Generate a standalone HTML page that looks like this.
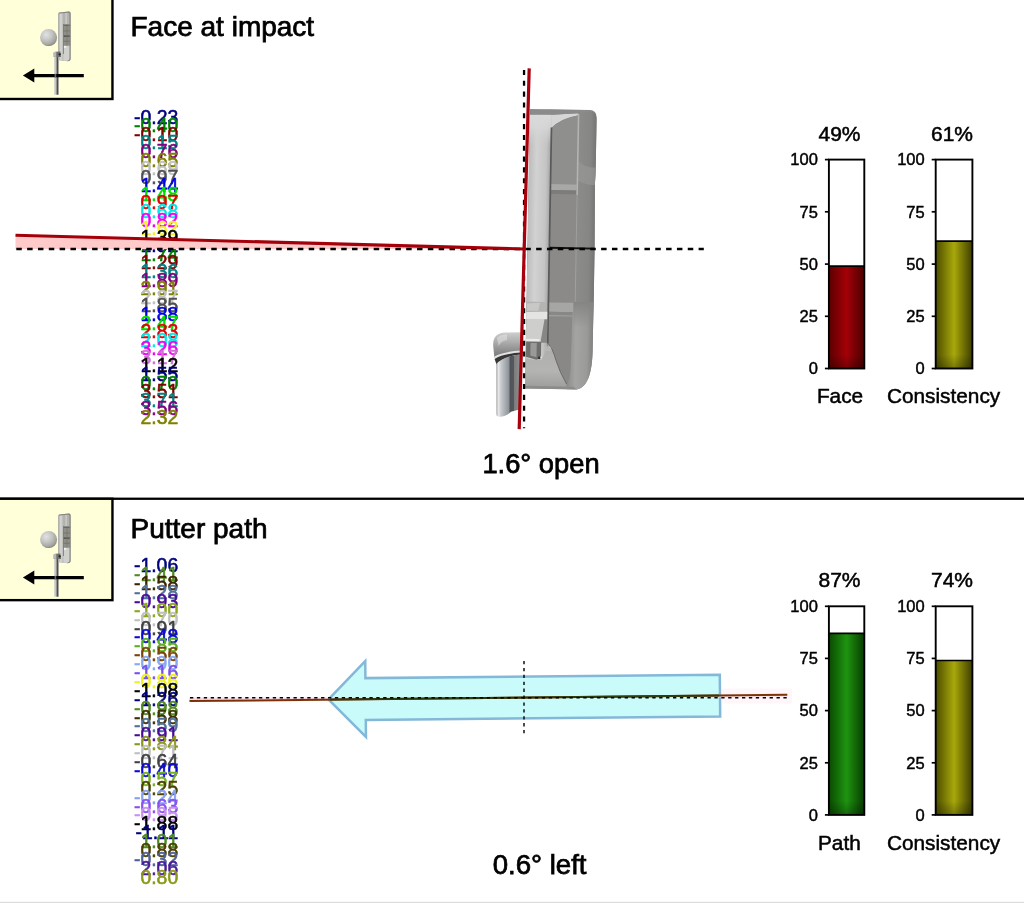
<!DOCTYPE html>
<html lang="en"><head><meta charset="utf-8"><title>Putting analysis</title>
<style>html,body{margin:0;padding:0;background:#fff}svg{display:block}</style>
</head><body>
<svg width="1024" height="904" viewBox="0 0 1024 904" font-family='"Liberation Sans", Arial, sans-serif' fill="#000">
<defs>
 <linearGradient id="gRed" x1="0" x2="1" y1="0" y2="0"><stop offset="0" stop-color="#5c0000"/><stop offset="0.5" stop-color="#a40008"/><stop offset="1" stop-color="#4a0000"/></linearGradient>
 <linearGradient id="gOlive" x1="0" x2="1" y1="0" y2="0"><stop offset="0" stop-color="#4c4c00"/><stop offset="0.5" stop-color="#a8a80c"/><stop offset="1" stop-color="#3e3e00"/></linearGradient>
 <linearGradient id="gGreen" x1="0" x2="1" y1="0" y2="0"><stop offset="0" stop-color="#0a4a00"/><stop offset="0.5" stop-color="#1e9410"/><stop offset="1" stop-color="#083c00"/></linearGradient>
 <radialGradient id="gBall" cx="0.36" cy="0.32" r="0.75"><stop offset="0" stop-color="#e2e2e4"/><stop offset="0.45" stop-color="#c4c4c2"/><stop offset="0.8" stop-color="#a4a4a0"/><stop offset="1" stop-color="#86867e"/></radialGradient>
  <linearGradient id="gHeadS" x1="0" x2="1" y1="0" y2="0"><stop offset="0" stop-color="#a6a6a2"/><stop offset="0.5" stop-color="#d8d8d4"/><stop offset="1" stop-color="#b6b6b2"/></linearGradient>
 <linearGradient id="gFace" x1="0" x2="1" y1="0" y2="0"><stop offset="0" stop-color="#bcbcbc"/><stop offset="0.35" stop-color="#d2d2d2"/><stop offset="0.8" stop-color="#c4c4c4"/><stop offset="1" stop-color="#a6a6a6"/></linearGradient>
 <linearGradient id="gFlange" x1="0" x2="1" y1="0" y2="0"><stop offset="0" stop-color="#8c8c8b"/><stop offset="0.6" stop-color="#868685"/><stop offset="1" stop-color="#6e6e6d"/></linearGradient>
 <linearGradient id="gFlangeB" x1="0" x2="1" y1="0" y2="0"><stop offset="0" stop-color="#8c8c8b"/><stop offset="0.3" stop-color="#a4a4a3"/><stop offset="0.7" stop-color="#9a9a99"/><stop offset="1" stop-color="#767675"/></linearGradient>
 <linearGradient id="gBarShade" x1="0" x2="0" y1="0" y2="1"><stop offset="0" stop-color="#000" stop-opacity="0"/><stop offset="1" stop-color="#000" stop-opacity="0.28"/></linearGradient>
 <linearGradient id="gFaceTop" x1="0" x2="0" y1="0" y2="1"><stop offset="0" stop-color="#dadada" stop-opacity="1"/><stop offset="0.4" stop-color="#d8d8d8" stop-opacity="0.85"/><stop offset="1" stop-color="#d0d0d0" stop-opacity="0"/></linearGradient>
 <linearGradient id="gFade" x1="0" x2="0" y1="0" y2="1"><stop offset="0" stop-color="#858584" stop-opacity="1"/><stop offset="1" stop-color="#858584" stop-opacity="0"/></linearGradient>
 <linearGradient id="gSole" x1="0" x2="0" y1="0" y2="1"><stop offset="0" stop-color="#adadab"/><stop offset="0.6" stop-color="#b4b4b2"/><stop offset="1" stop-color="#9c9c9a"/></linearGradient>
 <linearGradient id="gElbow" x1="0" x2="0" y1="0" y2="1"><stop offset="0" stop-color="#cecece"/><stop offset="0.35" stop-color="#b0b0b0"/><stop offset="0.8" stop-color="#868686"/><stop offset="1" stop-color="#7a7a7a"/></linearGradient>
 <linearGradient id="gShaft" gradientUnits="userSpaceOnUse" x1="496" x2="521" y1="0" y2="0"><stop offset="0" stop-color="#a2a2a2"/><stop offset="0.1" stop-color="#e6e6e6"/><stop offset="0.2" stop-color="#c6cace"/><stop offset="0.52" stop-color="#8c9298"/><stop offset="0.56" stop-color="#50545a"/><stop offset="0.7" stop-color="#54585c"/><stop offset="0.74" stop-color="#7c7c7c"/><stop offset="1" stop-color="#929292"/></linearGradient>
</defs>
<rect width="1024" height="904" fill="#fff"/>

<!-- ======================= panel 1 ======================= -->
<rect x="-2" y="-2" width="114.45" height="101" fill="#ffffd9" stroke="#000" stroke-width="2.4"/>
<g transform="translate(0,0)">
<circle cx="48.6" cy="37.6" r="8.5" fill="url(#gBall)"/>
<path d="M41.6 42.4 A8.5 8.5 0 0 0 56.6 40.4 A9.6 9.6 0 0 1 41.6 42.4 Z" fill="#7c7c74" opacity="0.55"/>
<!-- shaft -->
<rect x="54.3" y="55" width="2.3" height="39.7" fill="#c6c6c6"/>
<rect x="56.5" y="55" width="1.9" height="39.7" fill="#4c4c54"/>
<rect x="58.3" y="57" width="0.6" height="37.7" fill="#9a9a9a"/>
<!-- head -->
<path d="M58.3 14 Q58.3 12.7 59.6 12.6 L68.8 11.6 Q70.6 11.6 70.6 13.4 L70.6 58.6 Q70.5 61.2 67.8 61.2 L60.6 60.6 Q58.4 60.4 58.3 58.2 Z" fill="#b0b0ac"/>
<path d="M58.3 14 Q58.3 12.7 59.6 12.6 L63.3 12.2 L63.3 60.8 L60.6 60.6 Q58.4 60.4 58.3 58.2 Z" fill="url(#gHeadS)"/>
<rect x="63.3" y="12.4" width="6.9" height="11.6" fill="#b2b2ae"/>
<rect x="65.4" y="13" width="1.5" height="11" fill="#cacac6"/>
<rect x="63.3" y="24" width="6.9" height="21.8" fill="#8f8f89"/>
<rect x="63.3" y="25" width="6.9" height="0.9" fill="#66665f"/>
<rect x="63.3" y="30.6" width="6.9" height="0.8" fill="#707069"/>
<rect x="63.3" y="35.4" width="6.9" height="1.5" fill="#55554f"/>
<rect x="63.3" y="40.8" width="6.9" height="0.8" fill="#707069"/>
<rect x="66.6" y="24" width="0.7" height="21.8" fill="#76766f"/>
<rect x="63.3" y="45.8" width="6.9" height="15" fill="#d0d0cc"/>
<rect x="63.6" y="46" width="2.6" height="1.8" fill="#f2f2ee"/>
<rect x="63" y="24" width="0.8" height="30" fill="#7a7a74"/>
<path d="M68.9 11.6 Q70.6 11.6 70.6 13.4 L70.6 58.6 Q70.5 61.2 67.8 61.2 L67.6 60.4 Q69.5 60.2 69.5 58.4 L69.5 14 Q69.5 12.6 68.4 12.4 Z" fill="#84847c"/>
<path d="M58.6 13.6 Q58.8 12.6 59.8 12.5 L68.9 11.6 L69.2 12.5 L60 13.4 Z" fill="#84847c"/>
<!-- hosel -->
<path d="M53.7 53.2 Q53.7 51.8 55.2 51.7 L60.4 51.4 L61 56.9 L53.7 56.9 Z" fill="#6e6e6c"/>
<rect x="53.7" y="52" width="2.6" height="4.9" fill="#b8b8b6"/>
<circle cx="59.7" cy="54.3" r="1.15" fill="#1e1e1e"/>
<!-- arrow -->
<path d="M22.9 75.6 L34.3 68.6 L34.3 73.9 L83.8 73.9 L83.8 77.2 L34.3 77.2 L34.3 82.6 Z" fill="#000"/>
<rect x="54.6" y="73.9" width="1.6" height="3.3" fill="#666" />
</g>
<text x="130.5" y="35.8" font-size="28" stroke="#000" stroke-width="0.75">Face at impact</text>
<g font-size="19.4" text-anchor="end" stroke-width="0.55"><text x="178.3" y="123.60" fill="#000080" stroke="#000080">-0.23</text><text x="178.3" y="132.18" fill="#008000" stroke="#008000">-0.40</text><text x="178.3" y="140.76" fill="#800000" stroke="#800000">-0.10</text><text x="178.3" y="149.34" fill="#008080" stroke="#008080">0.15</text><text x="178.3" y="157.92" fill="#800080" stroke="#800080">0.76</text><text x="178.3" y="166.50" fill="#808000" stroke="#808000">0.65</text><text x="178.3" y="175.08" fill="#c0c0c0" stroke="#c0c0c0">0.69</text><text x="178.3" y="183.66" fill="#505050" stroke="#505050">0.97</text><text x="178.3" y="192.24" fill="#0000e0" stroke="#0000e0">1.44</text><text x="178.3" y="200.82" fill="#00e000" stroke="#00e000">1.48</text><text x="178.3" y="209.40" fill="#e00000" stroke="#e00000">0.97</text><text x="178.3" y="217.98" fill="#00e8e8" stroke="#00e8e8">0.68</text><text x="178.3" y="226.56" fill="#f000f0" stroke="#f000f0">0.82</text><text x="178.3" y="235.14" fill="#f4f030" stroke="#f4f030">1.62</text><text x="178.3" y="243.72" fill="#000000" stroke="#000000">1.39</text><text x="178.3" y="252.30" fill="#000080" stroke="#000080">1.52</text><text x="178.3" y="260.88" fill="#008000" stroke="#008000">1.74</text><text x="178.3" y="269.46" fill="#800000" stroke="#800000">1.29</text><text x="178.3" y="278.04" fill="#008080" stroke="#008080">1.36</text><text x="178.3" y="286.62" fill="#800080" stroke="#800080">1.89</text><text x="178.3" y="295.20" fill="#808000" stroke="#808000">2.91</text><text x="178.3" y="303.78" fill="#c0c0c0" stroke="#c0c0c0">2.87</text><text x="178.3" y="312.36" fill="#505050" stroke="#505050">1.85</text><text x="178.3" y="320.94" fill="#0000e0" stroke="#0000e0">1.88</text><text x="178.3" y="329.52" fill="#00e000" stroke="#00e000">2.47</text><text x="178.3" y="338.10" fill="#e00000" stroke="#e00000">2.83</text><text x="178.3" y="346.68" fill="#00e8e8" stroke="#00e8e8">2.08</text><text x="178.3" y="355.26" fill="#f000f0" stroke="#f000f0">3.26</text><text x="178.3" y="363.84" fill="#d070d8" stroke="#d070d8">3.17</text><text x="178.3" y="372.42" fill="#000000" stroke="#000000">1.12</text><text x="178.3" y="381.00" fill="#000080" stroke="#000080">1.55</text><text x="178.3" y="389.58" fill="#008000" stroke="#008000">0.70</text><text x="178.3" y="398.16" fill="#800000" stroke="#800000">3.51</text><text x="178.3" y="406.74" fill="#008080" stroke="#008080">3.71</text><text x="178.3" y="415.32" fill="#800080" stroke="#800080">3.56</text><text x="178.3" y="423.90" fill="#808000" stroke="#808000">2.32</text></g>
<!-- wedge -->
<path d="M15.5 235 L524.3 249 L15.5 249 Z" fill="#ffcaca"/>

<g transform="rotate(1.0 524.3 249)">
 <!-- outer body -->
 <clipPath id="cBody"><path d="M527.4 108.9 L587.2 108.9 Q594.3 108.9 594.3 116.5 L594.3 160 Q594.4 172 593.8 182 L594.6 250 C594.7 290 594.5 318 594.4 348 C594.4 372 590 386.5 579 388.5 L527.4 388.5 Z"/></clipPath>
 <path d="M527.4 108.9 L587.2 108.9 Q594.3 108.9 594.3 116.5 L594.3 160 Q594.4 172 593.8 182 L594.6 250 C594.7 290 594.5 318 594.4 348 C594.4 372 590 386.5 579 388.5 L527.4 388.5 Z" fill="#868685"/>
 <g clip-path="url(#cBody)">
 <!-- face strip -->
 <rect x="527.4" y="108.9" width="21.6" height="279.3" fill="url(#gFace)"/>
 <!-- top dark band + light face top -->
 <path d="M549 114.2 L576 112.4 L576 114.4 Q558 118 549.5 127.4 L549 127.4 Z" fill="#d6d6d6"/>
 <path d="M527.4 114.6 L549.4 114.2 L549.4 146 L527.4 146 Z" fill="url(#gFaceTop)"/>
 <path d="M527.4 108.9 L586 108.9 Q590 108.9 592 111.6 L576 112.4 L549 114.2 L527.4 114.6 Z" fill="#8b8b8b"/>
 <!-- cavity -->
 <path d="M549.5 127.6 Q558 118.4 575.6 114.6 L575.6 183.6 L549.5 183.6 Z" fill="#8f8f8e"/>
 <rect x="549.5" y="183.6" width="26.1" height="6" fill="#a8a8a7"/>
 <rect x="549.5" y="189.6" width="26.1" height="4" fill="#7c7c7b"/>
 <rect x="549.5" y="193.6" width="26.1" height="108.4" fill="#8b8a88"/>
 <rect x="549.5" y="302" width="25" height="9.4" fill="#a6a6a4"/>
 <rect x="549.5" y="311.4" width="25" height="3.2" fill="#888886"/>
 <rect x="549.5" y="314.6" width="24.4" height="1.4" fill="#a2a2a0"/>
 <path d="M550.4 316 L573.2 316 L572.4 372 Q571.6 380 569 383.4 Q562 372 558 360 Q554 347 550.4 344 Z" fill="#898886"/>
 <rect x="548.5" y="127" width="1.7" height="216" fill="#5a5a5a"/>
 <!-- flange upper -->
 <path d="M576.2 112.4 L587 110.2 Q594.6 110.4 594.6 117.5 L597 162 L597 302 L576.2 302 Z" fill="url(#gFlange)"/>
 <path d="M577 160 Q585 168 596 166 L596 184 Q585 184 577 180 Z" fill="#999998" opacity="0.6"/>
 <rect x="575.4" y="113" width="1.6" height="81" fill="#b4b4b4"/>
 <rect x="575.6" y="194" width="1" height="108" fill="#a0a09e"/>
 <!-- flange lower (lit bumper) -->
 <path d="M574.6 302 L597 302 L597 390 L570 390 Q568.4 386 569.4 383 Q572.6 378 572.6 368 L573.4 316 Z" fill="url(#gFlangeB)"/>
 <rect x="574.6" y="301" width="22" height="26" fill="url(#gFade)"/>
 <!-- sole -->
 <path d="M527.4 358.6 L543.4 359.8 Q547 352 550.4 344 Q554 347 558 360 Q562 372 569 383.4 Q568.4 386 570 388.5 L527.4 388.5 Z" fill="url(#gSole)"/>
 <path d="M527.4 385.8 L576 385.8 L579 388.5 L527.4 388.5 Z" fill="#8c8c8a"/>
 <path d="M550.4 344 Q554 347 558 360 Q562 372 569 383.4" fill="none" stroke="#666664" stroke-width="0.9"/>
 <!-- sight line -->
 <rect x="549.6" y="246.4" width="46" height="1.9" fill="#111"/>
 </g>
 <!-- neck -->
 <path d="M527.4 301.5 L546.8 301.5 L546.8 312 L527.4 312 Z" fill="#b4b4b2"/>
 <path d="M528 303.4 L541 302.4 L539.4 310.4 L528 310.6 Z" fill="#c8c8c6"/>
 <path d="M527.4 312 L548.4 311.4 L548.4 319 L527.4 319 Z" fill="#e4e4e2"/>
 <path d="M527.8 319 L545.8 319 L542.6 338.7 L527.8 338.7 Z" fill="#cececc"/>
 <path d="M545.8 319 L548.6 319 L548.6 342.4 L542.6 342.4 L542.6 338.7 Z" fill="#878785"/>
 <path d="M527.4 338.7 L541.2 338.7 L541.2 341.4 L527.4 341.4 Z" fill="#ebebe9"/>
 <path d="M527.8 341.4 L542.8 341.4 L542.8 357.6 L538.4 359.6 L527.8 356.6 Z" fill="#6e6e6d"/>
 <path d="M532.2 342.8 L538.4 342.8 L538.4 357 L532.2 355.4 Z" fill="#9a9a98"/>
 <circle cx="541" cy="357.6" r="1.3" fill="#333"/>
 <circle cx="542.9" cy="357" r="0.8" fill="#eee"/>
 <ellipse cx="549.6" cy="348" rx="3.6" ry="2.8" fill="#c4c4c2" opacity="0.45"/>
</g>
<!-- hosel elbow + shaft (screen coordinates) -->
<path d="M521.5 332.2 L505 332.6 Q493.2 333 493.1 345 L494.4 357.8 Q503 352.6 521.5 351.6 Z" fill="url(#gElbow)"/>
<path d="M497 338 Q500 334.6 507 334.4 L507 340 Q501 341 498.6 346 Z" fill="#ececec" opacity="0.45"/>
<path d="M494.4 356.6 Q503 351.6 521.5 350.6 L521.5 352.8 Q503.6 353.6 495.2 359.4 Z" fill="#e2e2e2"/>
<path d="M494.6 359 Q503.2 353.6 521.5 352.6 L521.5 354.6 Q504.4 355.6 496.6 364.8 Z" fill="#363636"/>
<path d="M496.2 364 Q504 355.4 521.5 354.4 L519.4 409.6 L511 411.8 Q505 417.4 498 416.6 Q496.4 416.2 496.3 414 Z" fill="url(#gShaft)"/>

<line x1="16.3" y1="248.9" x2="703.8" y2="248.9" stroke="#000" stroke-width="2.5" stroke-dasharray="5.5 5.33"/>
<line x1="524.05" y1="69.9" x2="524.05" y2="428.2" stroke="#000" stroke-width="2.3" stroke-dasharray="5.1 5.73"/>
<line x1="15.5" y1="235.2" x2="524.3" y2="249" stroke="#a4000a" stroke-width="3.1"/>
<line x1="529.2" y1="68.4" x2="519.2" y2="429.1" stroke="#a8000c" stroke-width="3.2"/>
<text x="541" y="473.2" font-size="27.3" stroke="#000" stroke-width="0.75" text-anchor="middle">1.6° open</text>
<rect x="828.9" y="159.6" width="35.39999999999998" height="208.9" fill="#fff"/><rect x="828.9" y="266.1" width="35.39999999999998" height="102.4" fill="url(#gRed)"/><rect x="828.9" y="354.5" width="35.39999999999998" height="14" fill="url(#gBarShade)"/><rect x="828.9" y="159.6" width="35.39999999999998" height="208.9" fill="none" stroke="#000" stroke-width="1.9"/><line x1="828.9" y1="266.1" x2="864.3" y2="266.1" stroke="#000" stroke-width="1.7"/><line x1="824.9" y1="159.6" x2="828.9" y2="159.6" stroke="#000" stroke-width="1.7"/><text x="817.9" y="165.4" font-size="16.5" text-anchor="end" stroke="#000" stroke-width="0.45">100</text><line x1="824.9" y1="211.8" x2="828.9" y2="211.8" stroke="#000" stroke-width="1.7"/><text x="817.9" y="217.6" font-size="16.5" text-anchor="end" stroke="#000" stroke-width="0.45">75</text><line x1="824.9" y1="264.1" x2="828.9" y2="264.1" stroke="#000" stroke-width="1.7"/><text x="817.9" y="269.9" font-size="16.5" text-anchor="end" stroke="#000" stroke-width="0.45">50</text><line x1="824.9" y1="316.3" x2="828.9" y2="316.3" stroke="#000" stroke-width="1.7"/><text x="817.9" y="322.1" font-size="16.5" text-anchor="end" stroke="#000" stroke-width="0.45">25</text><line x1="824.9" y1="368.5" x2="828.9" y2="368.5" stroke="#000" stroke-width="1.7"/><text x="817.9" y="374.3" font-size="16.5" text-anchor="end" stroke="#000" stroke-width="0.45">0</text><text x="839.5" y="140.6" font-size="21" text-anchor="middle" stroke="#000" stroke-width="0.5">49%</text><text x="840" y="403.2" font-size="20.8" text-anchor="middle" stroke="#000" stroke-width="0.5">Face</text>
<rect x="935.7" y="159.6" width="36.69999999999993" height="208.9" fill="#fff"/><rect x="935.7" y="241.1" width="36.69999999999993" height="127.4" fill="url(#gOlive)"/><rect x="935.7" y="354.5" width="36.69999999999993" height="14" fill="url(#gBarShade)"/><rect x="935.7" y="159.6" width="36.69999999999993" height="208.9" fill="none" stroke="#000" stroke-width="1.9"/><line x1="935.7" y1="241.1" x2="972.4" y2="241.1" stroke="#000" stroke-width="1.7"/><line x1="931.7" y1="159.6" x2="935.7" y2="159.6" stroke="#000" stroke-width="1.7"/><text x="924.7" y="165.4" font-size="16.5" text-anchor="end" stroke="#000" stroke-width="0.45">100</text><line x1="931.7" y1="211.8" x2="935.7" y2="211.8" stroke="#000" stroke-width="1.7"/><text x="924.7" y="217.6" font-size="16.5" text-anchor="end" stroke="#000" stroke-width="0.45">75</text><line x1="931.7" y1="264.1" x2="935.7" y2="264.1" stroke="#000" stroke-width="1.7"/><text x="924.7" y="269.9" font-size="16.5" text-anchor="end" stroke="#000" stroke-width="0.45">50</text><line x1="931.7" y1="316.3" x2="935.7" y2="316.3" stroke="#000" stroke-width="1.7"/><text x="924.7" y="322.1" font-size="16.5" text-anchor="end" stroke="#000" stroke-width="0.45">25</text><line x1="931.7" y1="368.5" x2="935.7" y2="368.5" stroke="#000" stroke-width="1.7"/><text x="924.7" y="374.3" font-size="16.5" text-anchor="end" stroke="#000" stroke-width="0.45">0</text><text x="952" y="140.6" font-size="21" text-anchor="middle" stroke="#000" stroke-width="0.5">61%</text><text x="943.6" y="403.2" font-size="20.8" text-anchor="middle" stroke="#000" stroke-width="0.5">Consistency</text>

<!-- separator -->
<rect x="0" y="497.6" width="1024" height="2.3" fill="#000"/>

<!-- ======================= panel 2 ======================= -->
<rect x="-2" y="498.75" width="114.45" height="101.4" fill="#ffffd9" stroke="#000" stroke-width="2.4"/>
<g transform="translate(0,502)">
<circle cx="48.6" cy="37.6" r="8.5" fill="url(#gBall)"/>
<path d="M41.6 42.4 A8.5 8.5 0 0 0 56.6 40.4 A9.6 9.6 0 0 1 41.6 42.4 Z" fill="#7c7c74" opacity="0.55"/>
<!-- shaft -->
<rect x="54.3" y="55" width="2.3" height="39.7" fill="#c6c6c6"/>
<rect x="56.5" y="55" width="1.9" height="39.7" fill="#4c4c54"/>
<rect x="58.3" y="57" width="0.6" height="37.7" fill="#9a9a9a"/>
<!-- head -->
<path d="M58.3 14 Q58.3 12.7 59.6 12.6 L68.8 11.6 Q70.6 11.6 70.6 13.4 L70.6 58.6 Q70.5 61.2 67.8 61.2 L60.6 60.6 Q58.4 60.4 58.3 58.2 Z" fill="#b0b0ac"/>
<path d="M58.3 14 Q58.3 12.7 59.6 12.6 L63.3 12.2 L63.3 60.8 L60.6 60.6 Q58.4 60.4 58.3 58.2 Z" fill="url(#gHeadS)"/>
<rect x="63.3" y="12.4" width="6.9" height="11.6" fill="#b2b2ae"/>
<rect x="65.4" y="13" width="1.5" height="11" fill="#cacac6"/>
<rect x="63.3" y="24" width="6.9" height="21.8" fill="#8f8f89"/>
<rect x="63.3" y="25" width="6.9" height="0.9" fill="#66665f"/>
<rect x="63.3" y="30.6" width="6.9" height="0.8" fill="#707069"/>
<rect x="63.3" y="35.4" width="6.9" height="1.5" fill="#55554f"/>
<rect x="63.3" y="40.8" width="6.9" height="0.8" fill="#707069"/>
<rect x="66.6" y="24" width="0.7" height="21.8" fill="#76766f"/>
<rect x="63.3" y="45.8" width="6.9" height="15" fill="#d0d0cc"/>
<rect x="63.6" y="46" width="2.6" height="1.8" fill="#f2f2ee"/>
<rect x="63" y="24" width="0.8" height="30" fill="#7a7a74"/>
<path d="M68.9 11.6 Q70.6 11.6 70.6 13.4 L70.6 58.6 Q70.5 61.2 67.8 61.2 L67.6 60.4 Q69.5 60.2 69.5 58.4 L69.5 14 Q69.5 12.6 68.4 12.4 Z" fill="#84847c"/>
<path d="M58.6 13.6 Q58.8 12.6 59.8 12.5 L68.9 11.6 L69.2 12.5 L60 13.4 Z" fill="#84847c"/>
<!-- hosel -->
<path d="M53.7 53.2 Q53.7 51.8 55.2 51.7 L60.4 51.4 L61 56.9 L53.7 56.9 Z" fill="#6e6e6c"/>
<rect x="53.7" y="52" width="2.6" height="4.9" fill="#b8b8b6"/>
<circle cx="59.7" cy="54.3" r="1.15" fill="#1e1e1e"/>
<!-- arrow -->
<path d="M22.9 75.6 L34.3 68.6 L34.3 73.9 L83.8 73.9 L83.8 77.2 L34.3 77.2 L34.3 82.6 Z" fill="#000"/>
<rect x="54.6" y="73.9" width="1.6" height="3.3" fill="#666" />
</g>
<text x="130.5" y="537.6" font-size="28" stroke="#000" stroke-width="0.75">Putter path</text>
<g font-size="19.4" text-anchor="end" stroke-width="0.55"><text x="178.2" y="572.20" fill="#000080" stroke="#000080">-1.06</text><text x="178.2" y="581.10" fill="#4f8a20" stroke="#4f8a20">-1.41</text><text x="178.2" y="590.00" fill="#3a2600" stroke="#3a2600">-1.58</text><text x="178.2" y="598.90" fill="#50709a" stroke="#50709a">-1.28</text><text x="178.2" y="607.80" fill="#4a0a98" stroke="#4a0a98">-0.93</text><text x="178.2" y="616.70" fill="#8aa818" stroke="#8aa818">-1.00</text><text x="178.2" y="625.60" fill="#c0c0c0" stroke="#c0c0c0">-0.70</text><text x="178.2" y="634.50" fill="#404040" stroke="#404040">-0.91</text><text x="178.2" y="643.40" fill="#0808d8" stroke="#0808d8">-0.48</text><text x="178.2" y="652.30" fill="#58b020" stroke="#58b020">-0.85</text><text x="178.2" y="661.20" fill="#7a4408" stroke="#7a4408">-0.56</text><text x="178.2" y="670.10" fill="#88a8f0" stroke="#88a8f0">-0.90</text><text x="178.2" y="679.00" fill="#7850e8" stroke="#7850e8">-1.16</text><text x="178.2" y="687.90" fill="#f0f020" stroke="#f0f020">-0.86</text><text x="178.2" y="696.80" fill="#000000" stroke="#000000">-1.08</text><text x="178.2" y="705.70" fill="#000080" stroke="#000080">-1.26</text><text x="178.2" y="714.60" fill="#4f8a20" stroke="#4f8a20">-0.98</text><text x="178.2" y="723.50" fill="#3a3000" stroke="#3a3000">-0.58</text><text x="178.2" y="732.40" fill="#50709a" stroke="#50709a">-0.59</text><text x="178.2" y="741.30" fill="#4a0a98" stroke="#4a0a98">-0.91</text><text x="178.2" y="750.20" fill="#8a9818" stroke="#8a9818">-0.84</text><text x="178.2" y="759.10" fill="#c0c0c0" stroke="#c0c0c0">-0.71</text><text x="178.2" y="768.00" fill="#404040" stroke="#404040">-0.64</text><text x="178.2" y="776.90" fill="#0808d8" stroke="#0808d8">-0.40</text><text x="178.2" y="785.80" fill="#78b020" stroke="#78b020">0.57</text><text x="178.2" y="794.70" fill="#4a4400" stroke="#4a4400">0.25</text><text x="178.2" y="803.60" fill="#88a0f0" stroke="#88a0f0">-0.24</text><text x="178.2" y="812.50" fill="#8850f0" stroke="#8850f0">-0.63</text><text x="178.2" y="821.40" fill="#c890f0" stroke="#c890f0">-0.95</text><text x="178.2" y="830.30" fill="#000000" stroke="#000000">-1.88</text><text x="178.2" y="839.20" fill="#000080" stroke="#000080">-1.11</text><text x="178.2" y="848.10" fill="#4f8a20" stroke="#4f8a20">1.01</text><text x="178.2" y="857.00" fill="#4a4000" stroke="#4a4000">0.88</text><text x="178.2" y="865.90" fill="#50609a" stroke="#50609a">-0.32</text><text x="178.2" y="874.80" fill="#4a1a98" stroke="#4a1a98">2.06</text><text x="178.2" y="883.70" fill="#8a9818" stroke="#8a9818">0.80</text></g>
<!-- arrow -->
<g transform="rotate(-0.55 524 697.5)">
<path d="M328.5 697.5 L365.6 659.6 L365.6 676.6 L720 676.6 L720 718.4 L365.6 718.4 L365.6 735.4 Z" fill="#c4fbfb" fill-opacity="0.92" stroke="#84b8d8" stroke-width="2.5" stroke-linejoin="miter"/>
</g>
<path d="M189 697.5 L524 697.5 L189 700.6 Z M524 697.5 L787 697.5 L787 695 Z" fill="#ffd0e0" opacity="0.8"/>
<rect x="722" y="688.5" width="70" height="15" fill="#ffeef4" opacity="0.5"/>
<line x1="189.5" y1="701.1" x2="787.3" y2="694.8" stroke="#7a3206" stroke-width="2"/>
<line x1="330" y1="699.62" x2="719" y2="695.52" stroke="#2e3c0a" stroke-width="2"/>
<line x1="190" y1="697.8" x2="787.3" y2="697.8" stroke="#000" stroke-width="1.4" stroke-dasharray="3.3 3.6"/>
<line x1="524" y1="661" x2="524" y2="733.5" stroke="#000" stroke-width="1.4" stroke-dasharray="3.3 3.6"/>
<text x="539.6" y="874.2" font-size="27.6" stroke="#000" stroke-width="0.75" text-anchor="middle">0.6° left</text>
<rect x="828.9" y="606.3" width="35.39999999999998" height="208.60000000000002" fill="#fff"/><rect x="828.9" y="633.4" width="35.39999999999998" height="181.5" fill="url(#gGreen)"/><rect x="828.9" y="800.9" width="35.39999999999998" height="14" fill="url(#gBarShade)"/><rect x="828.9" y="606.3" width="35.39999999999998" height="208.60000000000002" fill="none" stroke="#000" stroke-width="1.9"/><line x1="828.9" y1="633.4" x2="864.3" y2="633.4" stroke="#000" stroke-width="1.7"/><line x1="824.9" y1="606.3" x2="828.9" y2="606.3" stroke="#000" stroke-width="1.7"/><text x="817.9" y="612.1" font-size="16.5" text-anchor="end" stroke="#000" stroke-width="0.45">100</text><line x1="824.9" y1="658.4" x2="828.9" y2="658.4" stroke="#000" stroke-width="1.7"/><text x="817.9" y="664.2" font-size="16.5" text-anchor="end" stroke="#000" stroke-width="0.45">75</text><line x1="824.9" y1="710.6" x2="828.9" y2="710.6" stroke="#000" stroke-width="1.7"/><text x="817.9" y="716.4" font-size="16.5" text-anchor="end" stroke="#000" stroke-width="0.45">50</text><line x1="824.9" y1="762.8" x2="828.9" y2="762.8" stroke="#000" stroke-width="1.7"/><text x="817.9" y="768.5" font-size="16.5" text-anchor="end" stroke="#000" stroke-width="0.45">25</text><line x1="824.9" y1="814.9" x2="828.9" y2="814.9" stroke="#000" stroke-width="1.7"/><text x="817.9" y="820.7" font-size="16.5" text-anchor="end" stroke="#000" stroke-width="0.45">0</text><text x="839.5" y="587.3" font-size="21" text-anchor="middle" stroke="#000" stroke-width="0.5">87%</text><text x="839.4" y="849.6" font-size="20.8" text-anchor="middle" stroke="#000" stroke-width="0.5">Path</text>
<rect x="935.7" y="606.3" width="36.69999999999993" height="208.60000000000002" fill="#fff"/><rect x="935.7" y="660.5" width="36.69999999999993" height="154.4" fill="url(#gOlive)"/><rect x="935.7" y="800.9" width="36.69999999999993" height="14" fill="url(#gBarShade)"/><rect x="935.7" y="606.3" width="36.69999999999993" height="208.60000000000002" fill="none" stroke="#000" stroke-width="1.9"/><line x1="935.7" y1="660.5" x2="972.4" y2="660.5" stroke="#000" stroke-width="1.7"/><line x1="931.7" y1="606.3" x2="935.7" y2="606.3" stroke="#000" stroke-width="1.7"/><text x="924.7" y="612.1" font-size="16.5" text-anchor="end" stroke="#000" stroke-width="0.45">100</text><line x1="931.7" y1="658.4" x2="935.7" y2="658.4" stroke="#000" stroke-width="1.7"/><text x="924.7" y="664.2" font-size="16.5" text-anchor="end" stroke="#000" stroke-width="0.45">75</text><line x1="931.7" y1="710.6" x2="935.7" y2="710.6" stroke="#000" stroke-width="1.7"/><text x="924.7" y="716.4" font-size="16.5" text-anchor="end" stroke="#000" stroke-width="0.45">50</text><line x1="931.7" y1="762.8" x2="935.7" y2="762.8" stroke="#000" stroke-width="1.7"/><text x="924.7" y="768.5" font-size="16.5" text-anchor="end" stroke="#000" stroke-width="0.45">25</text><line x1="931.7" y1="814.9" x2="935.7" y2="814.9" stroke="#000" stroke-width="1.7"/><text x="924.7" y="820.7" font-size="16.5" text-anchor="end" stroke="#000" stroke-width="0.45">0</text><text x="952" y="587.3" font-size="21" text-anchor="middle" stroke="#000" stroke-width="0.5">74%</text><text x="943.6" y="849.6" font-size="20.8" text-anchor="middle" stroke="#000" stroke-width="0.5">Consistency</text>

<rect x="0" y="901.8" width="1024" height="1.2" fill="#dcdcdc"/>
</svg>
</body></html>
